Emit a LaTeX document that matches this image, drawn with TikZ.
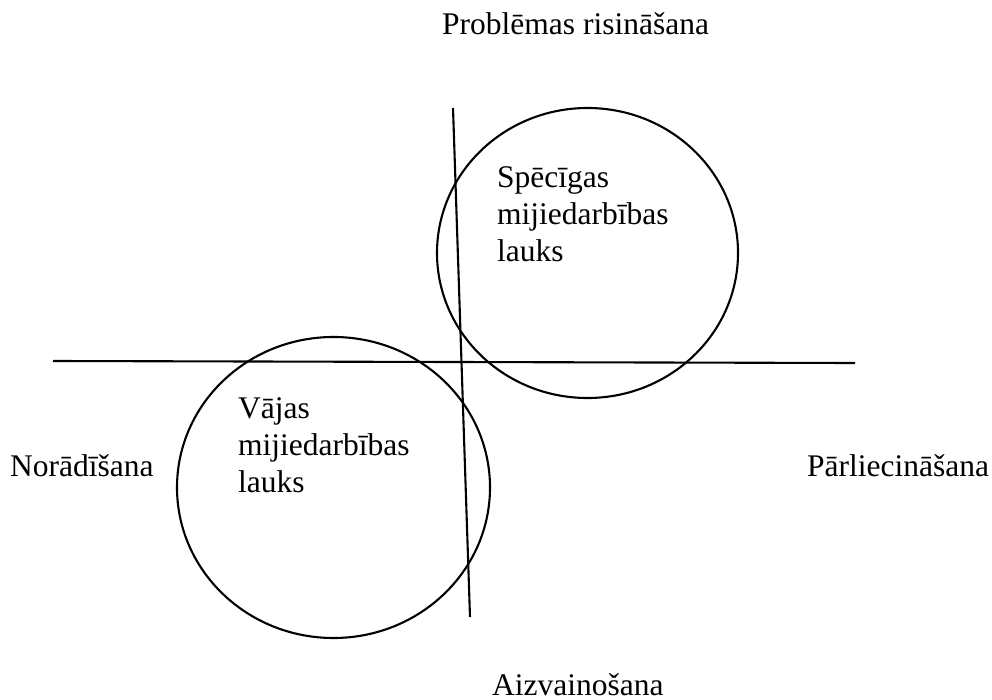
\documentclass[tikz,border=0pt]{standalone}
\usepackage{fontspec}
\setmainfont{Liberation Serif}
\begin{document}
\begin{tikzpicture}[x=1pt,y=-1pt,
  axis/.style={line width=2.1pt,line cap=butt},
  field/.style={line width=2.1pt},
  lbl/.style={inner sep=0pt,anchor=base west,font=\fontsize{31.5}{37}\selectfont},
  fieldlbl/.style={lbl,align=left}]
\useasboundingbox (0,0) rectangle (992,700);

% axes
\coordinate (vtop) at (453,108);
\coordinate (vbot) at (470,617);
\coordinate (hleft) at (53,361);
\coordinate (hright) at (855,363);
\draw[axis] (vtop) -- (vbot);
\draw[axis] (hleft) -- (hright);

% interaction fields
\draw[field] (587.5,253) ellipse [x radius=150.5, y radius=145];
\draw[field] (333.5,487.5) ellipse [x radius=156.5, y radius=150.5];

% multi-line labels: base anchor sits on the last line
\node[fieldlbl] (strong) at (497,262) {Spēcīgas\\mijiedarbības\\lauks};
\node[fieldlbl] (weak) at (238,492) {Vājas\\mijiedarbības\\lauks};

% pole labels
\node[lbl] (top) at (442,35) {Problēmas risināšana};
\node[lbl] (left) at (10,476) {Norādīšana};
\node[lbl] (right) at (807,476) {Pārliecināšana};
\node[lbl] (bottom) at (492,695) {Aizvainošana};
\end{tikzpicture}
\end{document}
